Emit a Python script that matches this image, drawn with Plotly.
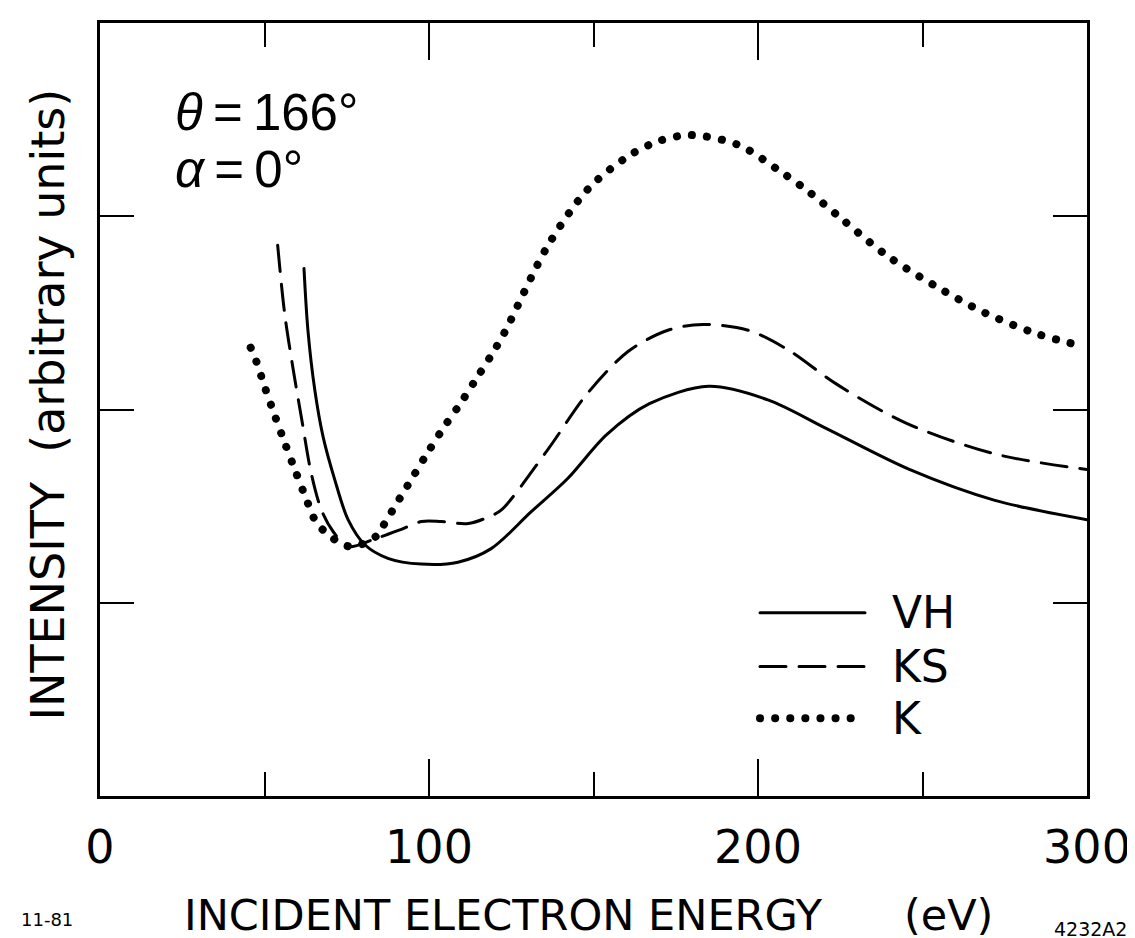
import plotly.graph_objects as go

# ---- data ----
vh_x = [62, 63.2, 65.3, 67.8, 71.3, 75.4, 80.5, 87.5, 97.7, 108.8, 118.9, 131, 142, 154, 167, 185, 203, 221, 246, 272, 300]
vh_y = [2.73, 2.41, 2.10, 1.86, 1.64, 1.43, 1.30, 1.23, 1.20, 1.21, 1.28, 1.47, 1.64, 1.87, 2.03, 2.12, 2.05, 1.90, 1.69, 1.53, 1.43]

ks_x = [54, 56.1, 58.7, 61.5, 64.2, 67.3, 70.8, 75.4, 83.5, 91.6, 97.7, 103.7, 111.9, 118.9, 122, 136, 148, 160.5, 172.6, 183.3, 197, 209, 224, 245, 272, 300]
ks_y = [2.85, 2.50, 2.21, 1.93, 1.67, 1.48, 1.37, 1.29, 1.33, 1.38, 1.42, 1.42, 1.41, 1.45, 1.48, 1.79, 2.08, 2.30, 2.41, 2.44, 2.41, 2.31, 2.13, 1.93, 1.77, 1.69]

k_x = [45.8, 47.5, 50.2, 53.1, 56.1, 59.2, 62.4, 65.9, 69.0, 72.8, 76.6, 80.6, 84.3, 86.5, 91.1, 95.4, 99.7, 104.6, 109.5, 114.4, 118.9, 123.0, 136.2, 148.3, 160.5, 170, 179.6, 193.9, 206.1, 215.2, 225.2, 238.9, 253.8, 269, 285.1, 298.2]
k_y = [2.32, 2.25, 2.11, 1.97, 1.83, 1.69, 1.55, 1.41, 1.36, 1.31, 1.29, 1.31, 1.35, 1.41, 1.54, 1.66, 1.78, 1.91, 2.03, 2.16, 2.28, 2.40, 2.85, 3.14, 3.31, 3.39, 3.42, 3.37, 3.24, 3.13, 2.99, 2.80, 2.64, 2.50, 2.39, 2.33]

x_major_ticks = [0, 100, 200, 300]
x_major_labels = ["0", "100", "200", "300"]
x_minor_ticks = [50, 150, 250]
y_ticks = [1, 2, 3]

series_names = ["VH", "KS", "K"]

FONT = "DejaVu Sans"
NARROW = "Liberation Sans Narrow, Liberation Sans, Arial"
DOT = "0.1px,15px"
DASH = "26px,13px"

fig = go.Figure()
fig.add_trace(go.Scatter(x=vh_x, y=vh_y, mode="lines", name=series_names[0],
                         line=dict(color="black", width=3, shape="spline", smoothing=0.9)))
fig.add_trace(go.Scatter(x=ks_x, y=ks_y, mode="lines", name=series_names[1],
                         line=dict(color="black", width=3, dash=DASH, shape="spline", smoothing=0.9)))
fig.add_trace(go.Scatter(x=k_x, y=k_y, mode="lines", name=series_names[2],
                         line=dict(color="black", width=8, dash=DOT, shape="spline", smoothing=0.9)))

axis_common = dict(showline=True, linewidth=3, linecolor="black", mirror="ticks",
                   showgrid=False, zeroline=False, ticks="inside", tickwidth=2, tickcolor="black")

fig.update_xaxes(range=[0, 300], tickvals=x_major_ticks, ticktext=x_major_labels, ticklen=37,
                 tickfont=dict(family=FONT, size=46, color="black"), ticklabelstandoff=9,
                 minor=dict(tickvals=x_minor_ticks, ticks="inside", ticklen=24, tickwidth=2,
                            tickcolor="black", showgrid=False),
                 **axis_common)
fig.update_yaxes(range=[0, 4], tickvals=y_ticks, ticklen=34, showticklabels=False, **axis_common)

# legend drawn as keys + labels
leg_y = [0.2371, 0.1675, 0.1005]
leg_dash = [None, DASH, DOT]
leg_w = [3, 3, 8]
shapes = []
annotations = []
for name, yy, d, w in zip(series_names, leg_y, leg_dash, leg_w):
    line = dict(color="black", width=w)
    if d:
        line["dash"] = d
    shapes.append(dict(type="line", xref="paper", yref="paper", x0=0.6687, x1=0.7751,
                       y0=yy, y1=yy, line=line))
    annotations.append(dict(text=name, xref="paper", yref="paper", x=0.8004, y=yy,
                            xanchor="left", yanchor="middle", showarrow=False,
                            font=dict(family=FONT, size=44, color="black")))

angle_text = ("<span style='font-size:51px'><i>θ</i>\u2009=\u2009166°</span><br>"
              "<span style='font-size:51px'><i>α</i>\u2009=\u20090°</span>")

annotations += [
    dict(text=angle_text, xref="paper", yref="paper", x=0.074, y=0.8473,
         xanchor="left", yanchor="middle", align="left", showarrow=False,
         font=dict(family=NARROW, size=44, color="black")),
    dict(text="INCIDENT ELECTRON ENERGY" + "\u00a0" * 6 + "(eV)", xref="paper", yref="paper",
         x=0.4949, y=-0.1535, xanchor="center", yanchor="middle", showarrow=False,
         font=dict(family=FONT, size=43, color="black")),
    dict(text="INTENSITY" + "\u00a0" * 2 + "(arbitrary units)", xref="paper", yref="paper",
         x=-0.0527, y=0.5064, xanchor="center", yanchor="middle", textangle=-90, showarrow=False,
         font=dict(family=FONT, size=46, color="black")),
    dict(text="11-81", xref="paper", yref="paper", x=-0.0537, y=-0.1600,
         xanchor="center", yanchor="middle", showarrow=False,
         font=dict(family=FONT, size=18, color="black")),
    dict(text="4232A2", xref="paper", yref="paper", x=1.0040, y=-0.1715,
         xanchor="center", yanchor="middle", showarrow=False,
         font=dict(family=FONT, size=19, color="black")),
]

fig.update_layout(width=1135, height=938, margin=dict(l=92, r=56, t=12, b=150),
                  plot_bgcolor="white", paper_bgcolor="white", showlegend=False,
                  shapes=shapes, annotations=annotations)

post = ("var s=document.createElement('style');"
        "s.textContent='.scatterlayer .js-line, .shapelayer path{stroke-linecap:round;}';"
        "document.head.appendChild(s);")
fig.write_html("out.html", post_script=post)
